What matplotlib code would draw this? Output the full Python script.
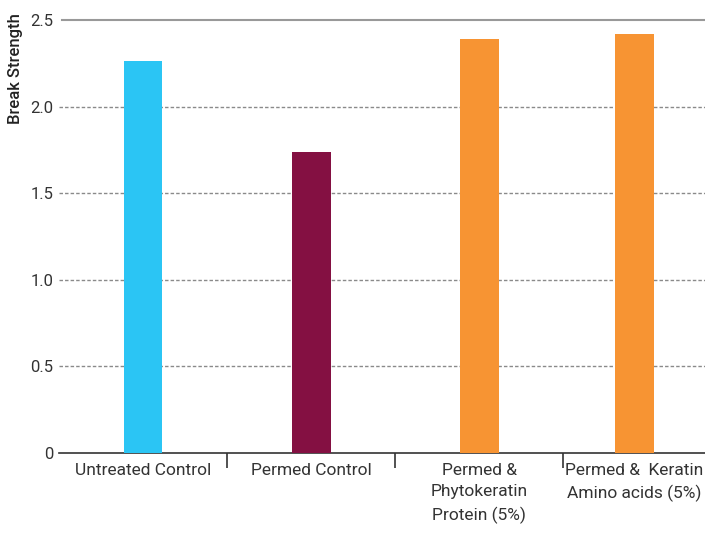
import matplotlib
matplotlib.use('Agg')
import matplotlib.pyplot as plt
import numpy as np

categories = ['Untreated Control', 'Permed Control',
              'Permed &\nPhytokeratin\nProtein (5%)',
              'Permed &  Keratin\nAmino acids (5%)']
values = [2.263, 1.738, 2.39, 2.419]
colors = ['#2BC5F4', '#841042', '#F79433', '#F79433']
yticks = [0, 0.5, 1.0, 1.5, 2.0, 2.5]
ytick_labels = ['0', '0.5', '1.0', '1.5', '2.0', '2.5']

plt.rcParams['font.family'] = ['Roboto', 'DejaVu Sans']

fig = plt.figure(figsize=(7.05, 5.34), dpi=100)
ax = fig.add_axes([59/705, 1-453/534, 1-59/705, (453-20)/534])

xmax = 3.345
x = np.arange(len(categories), dtype=float)
x[-1] = (2.5 + xmax) / 2  # last category is cut by the right edge

ax.bar(x, values, width=0.232, color=colors, zorder=3)
ax.set_xlim(-0.5, xmax)
ax.set_ylim(0, 2.5)

ax.set_yticks(yticks)
ax.set_yticklabels(ytick_labels)
for y in yticks[1:-1]:
    ax.axhline(y, color='#8a8a8a', lw=1.0, ls=(0, (2.5, 1.5)), zorder=1)
ax.axhline(2.5, xmin=0.005, color='#999999', lw=1.5, zorder=1, clip_on=False)

for s in ['top', 'right', 'left']:
    ax.spines[s].set_visible(False)
ax.spines['bottom'].set_color('#333333')
ax.spines['bottom'].set_linewidth(1.2)

ax.set_xticks(x)
ax.set_xticklabels(categories, fontsize=12.5, color='#333333', va='top',
                   linespacing=1.55)
ax.tick_params(axis='x', length=0, pad=7)
ax.set_xticks([0.5, 1.5, 2.5], minor=True)
ax.tick_params(axis='x', which='minor', length=11, width=1.2, color='#333333')
ax.tick_params(axis='y', length=0, pad=4, labelsize=12, labelcolor='#333333')

fig.text(16/705, 1-13/534, 'Break Strength', rotation=90, ha='center', va='top',
         fontsize=12, fontweight='medium', color='#222222')

fig.savefig('out.png', dpi=100)
